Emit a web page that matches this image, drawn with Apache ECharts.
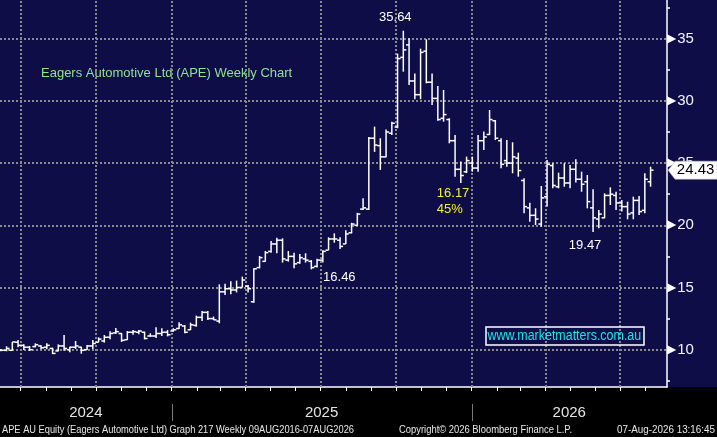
<!DOCTYPE html>
<html>
<head>
<meta charset="utf-8">
<script src="https://cdn.jsdelivr.net/npm/echarts@6/dist/echarts.min.js"></script>
<style>
html,body{margin:0;padding:0;background:#000;}
#c{width:717px;height:437px;}
</style>
</head>
<body>
<div id="c"></div>
<script>
// ---- Data (weekly OHLC, APE AU) ----
const lastWeek = '2026-08-07';
const opens = [10.0,9.95,9.95,10.6,10.35,10.2,10.25,10.3,10.2,10.1,9.9,10.3,10.0,10.2,10.2,10.0,10.3,10.6,10.7,11.0,
  11.35,11.3,10.8,11.4,11.4,11.4,11.1,11.1,11.3,11.4,11.5,11.7,11.9,11.6,11.95,12.6,13.0,12.5,12.3,14.65,
  14.9,14.8,15.0,15.1,13.85,16.6,17.1,17.9,18.5,18.8,17.2,17.5,17.0,17.3,17.1,16.7,17.2,18.0,18.9,18.8,
  18.5,19.4,20.0,21.3,21.3,27.0,26.4,25.5,27.4,27.9,33.5,34.5,31.6,30.5,34.0,31.5,30.2,28.6,28.5,26.8,
  24.5,24.3,25.0,24.6,26.8,27.3,28.4,26.8,25.2,25.0,25.4,23.6,21.4,20.8,20.1,22.3,24.8,23.1,23.8,23.4,
  24.5,23.7,23.5,21.4,20.5,20.6,22.4,22.4,21.8,21.5,21.0,22.0,21.2,23.5];
const highs = [10.06,10.27,10.62,10.78,10.43,10.3,10.51,10.35,10.51,10.16,10.43,11.18,10.24,10.7,10.24,10.38,10.78,10.99,11.18,11.48,
  11.74,11.34,11.5,11.58,11.58,11.45,11.32,11.8,11.72,11.58,11.72,12.2,11.99,12.17,12.74,13.11,13.11,12.66,15.25,15.3,
  15.5,15.55,15.87,15.2,16.54,17.53,17.93,18.74,19.0,18.95,17.93,17.8,17.7,17.75,17.2,17.3,18.0,19.03,19.35,19.03,
  19.6,20.2,21.0,22.17,27.1,27.93,27.0,27.7,28.33,33.8,35.64,35.03,32.2,34.2,34.95,32.2,31.2,30.88,28.6,27.26,
  25.12,25.52,25.52,27.26,27.53,29.27,28.46,26.99,26.85,26.67,25.84,23.78,21.82,21.37,23.16,25.25,24.98,24.23,24.98,24.85,
  25.3,24.31,24.04,22.89,21.23,22.57,23.05,22.7,22.03,21.9,22.3,22.36,24.18,24.71];
const lows = [9.87,9.87,9.92,10.19,9.98,9.9,10.19,10.03,10.03,9.65,9.87,9.92,9.79,10.06,9.68,9.98,10.06,10.59,10.57,10.83,
  11.26,10.62,10.78,11.21,11.24,10.83,11.05,10.94,11.1,11.07,11.45,11.66,11.32,11.58,11.85,12.31,12.39,12.39,12.12,14.4,
  14.45,14.6,15.0,14.6,13.78,16.54,17.08,17.8,17.75,17.0,17.08,16.54,16.9,17.0,16.46,16.6,17.0,18.0,18.6,18.1,
  18.5,19.35,19.94,21.23,21.23,25.9,24.45,25.46,27.26,27.8,32.35,31.28,30.13,30.13,31.41,29.67,28.41,28.33,26.59,23.91,
  23.4,24.2,24.31,24.31,26.05,27.26,26.85,24.58,24.71,24.18,23.91,20.96,20.29,20.02,19.89,21.5,22.97,22.97,23.1,22.97,
  23.43,22.7,21.36,19.47,19.76,20.56,21.63,21.23,21.1,20.48,20.48,20.83,20.96,23.1];
const closes = [9.95,10.1,10.62,10.35,10.2,10.0,10.4,10.15,10.35,9.7,10.3,10.1,10.2,10.3,9.95,10.3,10.5,10.85,11.0,11.3,
  11.45,10.75,11.4,11.45,11.5,10.9,11.1,11.3,11.4,11.2,11.6,12.0,11.4,12.0,12.6,13.0,12.5,12.4,14.65,14.9,
  14.8,15.0,15.6,14.9,16.5,17.4,17.8,18.5,18.8,17.3,17.5,16.9,17.4,17.2,16.6,17.2,17.9,18.9,18.9,18.3,
  19.3,20.1,20.9,21.4,27.0,26.45,25.5,27.5,28.2,33.4,34.1,31.6,30.5,33.9,31.5,30.2,28.5,28.9,26.8,24.5,
  24.0,25.2,24.6,26.8,27.1,28.5,27.0,24.9,25.0,25.5,24.4,21.5,20.8,20.5,22.2,24.9,23.2,23.8,23.4,24.5,
  23.7,23.3,21.9,20.6,20.9,22.4,22.5,21.8,21.5,20.9,22.0,21.1,23.7,24.43];

// ---- Axis / annotation definitions ----
const xMinDate = '2024-06-06';
const xMaxDate = '2026-08-27';
const yMin = 7.0, yMax = 38.11;
const yTicks = [10, 15, 20, 25, 30, 35];
const yMinorTicks = [7.5, 12.5, 17.5, 22.5, 27.5, 32.5, 37.5];
const quarterLines = ['2024-07-01','2024-10-01','2025-01-01','2025-04-01','2025-07-01','2025-10-01','2026-01-01','2026-04-01','2026-07-01'];
const yearLabels = [2024, 2025, 2026];
const peakIdx = 70, priorLowIdx = 54, troughIdx = 103, dropLabelIdx = 80;
const titleText = 'Eagers Automotive Ltd (APE) Weekly Chart';
const siteText = 'www.marketmatters.com.au';
const footerLeft = 'APE AU Equity (Eagers Automotive Ltd) Graph 217 Weekly 09AUG2016-07AUG2026';
const footerMid = 'Copyright\u00A9 2026 Bloomberg Finance L.P.';
const footerRight = '07-Aug-2026 13:16:45';

// ---- Build ----
const DAY = 864e5;
function ts(s) { const p = s.split('-').map(Number); return new Date(p[0], p[1] - 1, p[2]).getTime(); }
const N = opens.length;
const lastTs = ts(lastWeek);
const weeks = opens.map((_, i) => lastTs - (N - 1 - i) * 7 * DAY);
const ohlc = weeks.map((t, i) => [t, opens[i], highs[i], lows[i], closes[i]]);
const xMin = ts(xMinDate), xMax = ts(xMaxDate);
const monthTicks = [];
for (let y = 2024; y <= 2026; y++) for (let m = 0; m < 12; m++) {
  const t = new Date(y, m, 1).getTime();
  if (t > xMin && t < xMax) monthTicks.push(t);
}

const drop = highs[peakIdx] - lows[troughIdx];
const dropPct = Math.round(drop / highs[peakIdx] * 100);

function renderItem(params, api) {
  const x = api.value(0);
  const o = api.coord([x, api.value(1)]);
  const h = api.coord([x, api.value(2)]);
  const l = api.coord([x, api.value(3)]);
  const c = api.coord([x, api.value(4)]);
  const t = 3;
  const st = { stroke: '#ffffff', lineWidth: 1.5 };
  return {
    type: 'group',
    children: [
      { type: 'line', shape: { x1: h[0], y1: h[1], x2: l[0], y2: l[1] }, style: st },
      { type: 'line', shape: { x1: o[0] - t, y1: o[1], x2: o[0], y2: o[1] }, style: st },
      { type: 'line', shape: { x1: c[0], y1: c[1], x2: c[0] + t, y2: c[1] }, style: st }
    ]
  };
}

const annoFont = { fontSize: 13, fontFamily: 'Liberation Sans' };
const chart = echarts.init(document.getElementById('c'));
chart.setOption({
  backgroundColor: '#0e0d47',
  animation: false,
  grid: { left: 0, right: 50, top: 0, bottom: 50, containLabel: false },
  xAxis: [{
    type: 'time', min: xMin, max: xMax,
    axisLine: { show: true, lineStyle: { color: '#ffffff', width: 1.5 } },
    axisTick: { show: true, customValues: monthTicks, length: 4, lineStyle: { color: '#ffffff', width: 1 } },
    axisLabel: { show: false },
    splitLine: { show: false }
  }],
  yAxis: [{
    type: 'value', position: 'right', min: yMin, max: yMax,
    axisLine: { show: true, lineStyle: { color: '#ffffff', width: 1.5 } },
    axisTick: { show: false },
    axisLabel: {
      show: true, customValues: yTicks, margin: 0,
      formatter: v => '{t|\u25B6}{v|' + v + '}',
      rich: {
        t: { fontSize: 12, fontFamily: 'DejaVu Sans', color: '#ffffff', verticalAlign: 'middle' },
        v: { fontSize: 15, fontFamily: 'Liberation Sans', color: '#f4f4ff', verticalAlign: 'middle', padding: [0, 0, 0, 1] }
      }
    },
    splitLine: { show: false }
  }, {
    type: 'value', position: 'right', min: yMin, max: yMax,
    axisLine: { show: false },
    axisTick: { show: true, customValues: yMinorTicks, length: 3, lineStyle: { color: '#ffffff', width: 1.5 } },
    axisLabel: { show: false },
    splitLine: { show: false }
  }],
  series: [{
    type: 'line', data: [], silent: true, z: 1,
    markLine: {
      silent: true, symbol: 'none', z: 1, animation: false,
      label: { show: false },
      lineStyle: { color: '#8a8a8a', type: [2, 2], width: 2 },
      emphasis: { disabled: true },
      data: quarterLines.map(q => ({ xAxis: ts(q) })).concat(yTicks.map(v => ({ yAxis: v })))
    }
  }, {
    type: 'custom', name: 'APE', data: ohlc, z: 3,
    encode: { x: 0, y: [1, 2, 3, 4] },
    renderItem: renderItem,
    markPoint: {
      z: 6, silent: true, animation: false,
      data: [
        { coord: [weeks[peakIdx], highs[peakIdx]], symbol: 'circle', symbolSize: 1, itemStyle: { color: 'rgba(0,0,0,0)' },
          label: { show: true, position: 'inside', offset: [-8, -13], formatter: highs[peakIdx].toFixed(2), color: '#ffffff', ...annoFont } },
        { coord: [weeks[priorLowIdx], lows[priorLowIdx]], symbol: 'circle', symbolSize: 1, itemStyle: { color: 'rgba(0,0,0,0)' },
          label: { show: true, position: 'inside', offset: [28, 8], formatter: lows[priorLowIdx].toFixed(2), color: '#ffffff', ...annoFont } },
        { coord: [weeks[troughIdx], lows[troughIdx]], symbol: 'circle', symbolSize: 1, itemStyle: { color: 'rgba(0,0,0,0)' },
          label: { show: true, position: 'inside', offset: [-8, 14], formatter: lows[troughIdx].toFixed(2), color: '#ffffff', ...annoFont } },
        { coord: [weeks[dropLabelIdx], lows[dropLabelIdx]], symbol: 'circle', symbolSize: 1, itemStyle: { color: 'rgba(0,0,0,0)' },
          label: { show: true, position: 'inside', offset: [-24, 18], align: 'left', lineHeight: 16,
            formatter: drop.toFixed(2) + '\n' + dropPct + '%', color: '#f2f22a', ...annoFont } },
        { coord: [weeks[N - 1], closes[N - 1]], symbol: 'path://M0,9 L7,0 L49,0 L49,18 L7,18 Z', symbolSize: [49, 18],
          symbolOffset: [42, 0], itemStyle: { color: '#ffffff', borderColor: '#bbbbbb', borderWidth: 0.5 },
          label: { show: true, position: 'inside', offset: [3, 0], formatter: closes[N - 1].toFixed(2), color: '#000000', fontSize: 15, fontFamily: 'Liberation Sans' } }
      ]
    }
  }]
});

// ---- Frame texts placed with the axis scale ----
const px = t => chart.convertToPixel({ xAxisIndex: 0 }, t);
const xLeft = px(xMin), xRight = px(xMax);
const mctx = document.createElement('canvas').getContext('2d');
function fitScale(text, size, family, target) {
  mctx.font = size + 'px ' + family;
  return target / mctx.measureText(text).width;
}
const g = [];
g.push({ type: 'rect', z: -10, silent: true, shape: { x: 0, y: 387, width: 717, height: 50 }, style: { fill: '#000000' } });
yearLabels.forEach(y => {
  const a = Math.max(xLeft, px(new Date(y, 0, 1).getTime()));
  const b = Math.min(xRight, px(new Date(y + 1, 0, 1).getTime()));
  g.push({ type: 'text', x: (a + b) / 2, y: 413, silent: true,
    style: { text: String(y), fill: '#e4e4e4', fontSize: 15, fontFamily: 'Liberation Sans', align: 'center', verticalAlign: 'middle' } });
  const sx = px(new Date(y, 0, 1).getTime());
  if (sx > xLeft + 2 && sx < xRight) {
    g.push({ type: 'line', silent: true, shape: { x1: Math.round(sx) + 0.5, y1: 404, x2: Math.round(sx) + 0.5, y2: 421 }, style: { stroke: '#7a7a7a', lineWidth: 1 } });
  }
});
const footSize = 11, footFam = '"Liberation Sans"';
[[footerLeft, 2, 352, 'left'], [footerMid, 399, 173, 'left'], [footerRight, 715, 98, 'right']].forEach(f => {
  g.push({ type: 'text', x: f[1], y: 430, silent: true, scaleX: fitScale(f[0], footSize, footFam, f[2]),
    style: { text: f[0], fill: '#e8e8e8', align: f[3], verticalAlign: 'middle', fontSize: footSize, fontFamily: 'Liberation Sans' } });
});
g.push({ type: 'text', x: 41, y: 73, silent: true, style: { text: titleText, fill: '#8fe48f', fontSize: 13, fontFamily: 'Liberation Sans', align: 'left', verticalAlign: 'middle' } });
g.push({ type: 'rect', silent: true, z: 10, shape: { x: 486, y: 327, width: 158, height: 18 }, style: { fill: 'none', stroke: '#ffffff', lineWidth: 1.5 } });
g.push({ type: 'text', x: 487.5, y: 336, scaleX: 0.89, silent: true, z: 10, style: { text: siteText, fill: '#19e3e3', fontSize: 14, fontFamily: 'Liberation Sans', align: 'left', verticalAlign: 'middle' } });
chart.setOption({ graphic: { elements: g } });
</script>
</body>
</html>
